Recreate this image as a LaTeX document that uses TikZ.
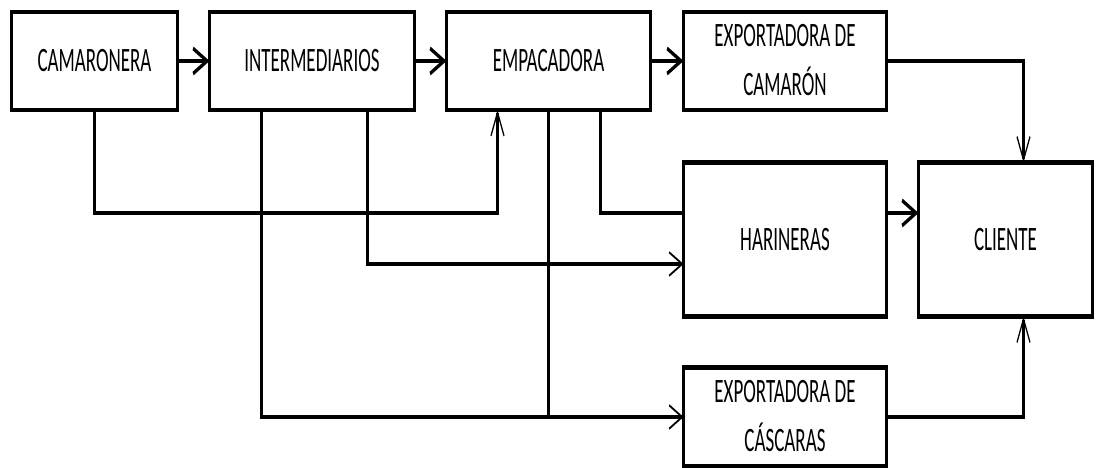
\documentclass[tikz,border=0pt]{standalone}
\usepackage{fontspec}
\setmainfont{Carlito}
\usetikzlibrary{arrows.meta,calc}
\tikzset{
  box/.style={draw, line width=2.6pt, inner sep=0pt, outer sep=0pt, align=center,
    font=\fontsize{19}{27.2}\selectfont},
  conn/.style={line width=2.2pt, line join=miter},
  thinarrow/.style={conn, -{Straight Barb[length=13pt,width=13pt,line width=1.2pt]}},
  thickarrow/.style={line width=2.4pt, -{Straight Barb[length=14pt,width=14pt,line width=2.2pt]}},
}
\newcommand\twolines[2]{\raisebox{-2.2pt}{\begin{tabular}{@{}c@{}}#1\\#2\end{tabular}}}
\begin{document}
\begin{tikzpicture}
\useasboundingbox (0pt,0pt) rectangle (1096pt,-468pt);
\fill[white] (0pt,0pt) rectangle (1096pt,-468pt);
\begin{scope}[transform canvas={yscale=1.8}, x={(1pt,0pt)}, y={(0pt,-0.555556pt)}]
  % boxes
  \node[box, minimum width=166pt, minimum height=54.4pt] (cam) at (94.5,61) {CAMARONERA};
  \node[box, minimum width=205pt, minimum height=54.4pt] (int) at (312,61) {INTERMEDIARIOS};
  \node[box, minimum width=204pt, minimum height=54.4pt] (emp) at (548.5,61) {EMPACADORA};
  \node[box, minimum width=203pt, minimum height=54.4pt] (exc) at (785,61) {\twolines{EXPORTADORA DE}{CAMARÓN}};
  \node[box, minimum width=203pt, minimum height=85.6pt] (har) at (785,239.5) {HARINERAS};
  \node[box, minimum width=174pt, minimum height=85.6pt] (cli) at (1005.5,239.5) {CLIENTE};
  \node[box, minimum width=203pt, minimum height=55pt] (exs) at (785,417) {\twolines{EXPORTADORA DE}{CÁSCARAS}};
  % top row
  \draw[thickarrow] (cam) -- (int);
  \draw[thickarrow] (int) -- (emp);
  \draw[thickarrow] (emp) -- (exc);
  % camaronera -> empacadora
  \draw[thinarrow] (cam.south) -- (cam.south |- 0,213) -| ($(emp.south west)+(51,0)$);
  % intermediarios -> exportadora de cascaras
  \draw[thinarrow] ($(int.south west)+(52,0)$) |- (exs.west);
  % intermediarios -> harineras
  \draw[thinarrow] ($(int.south west)+(158,0)$) |- (har.west |- 0,264);
  % empacadora -> cascaras line
  \draw[conn] (emp.south) -- (emp.south |- exs.west);
  % empacadora -> harineras
  \draw[conn] ($(emp.south west)+(154,0)$) |- (har.west |- 0,213);
  % harineras -> cliente
  \draw[thickarrow] (har.east |- 0,213) -- (cli.west |- 0,213);
  % exportadoras -> cliente
  \draw[thinarrow] (exc.east) -| ($(cli.north west)+(105,0)$);
  \draw[thinarrow] (exs.east) -| ($(cli.south west)+(105,0)$);
\end{scope}
\end{tikzpicture}
\end{document}
